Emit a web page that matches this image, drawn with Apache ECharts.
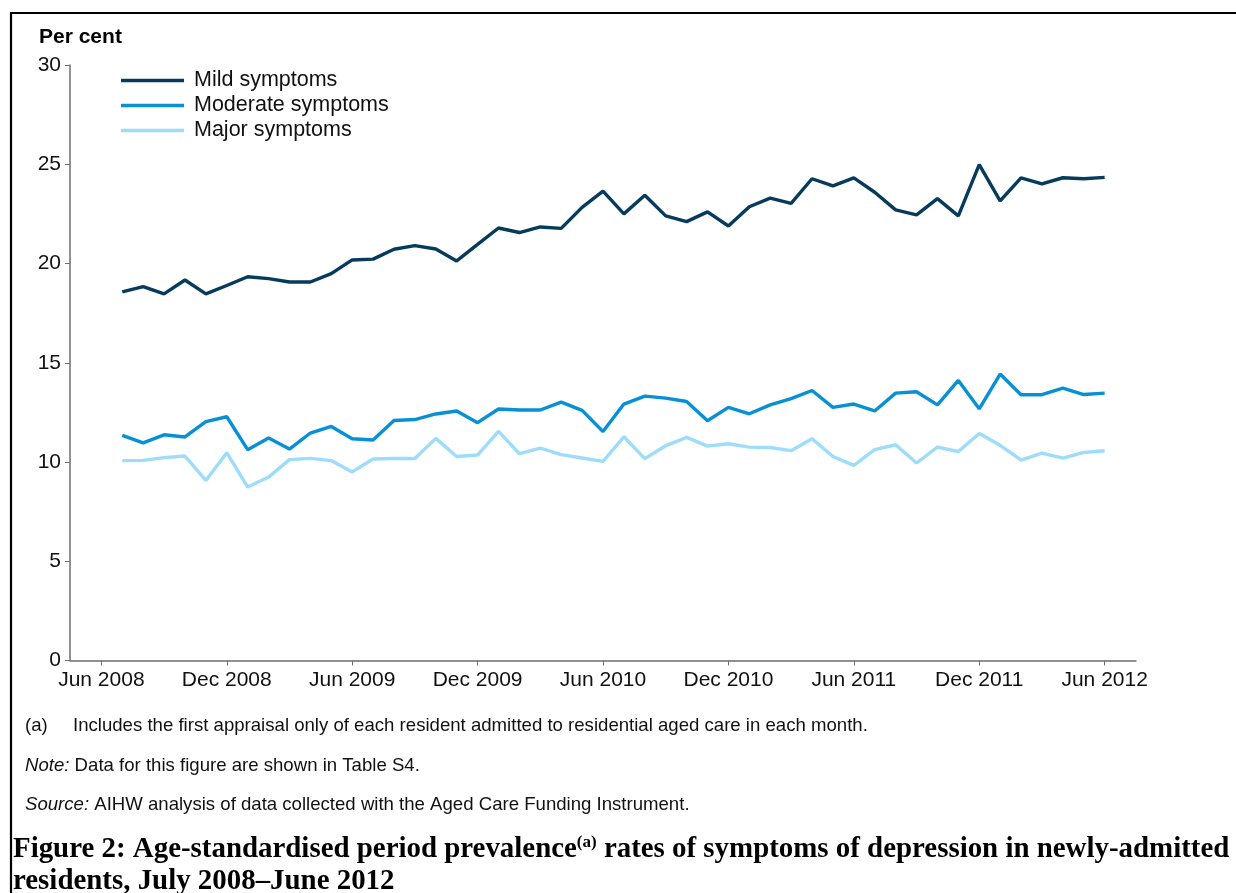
<!DOCTYPE html>
<html>
<head>
<meta charset="utf-8">
<title>Symptoms of depression in newly-admitted residents</title>
<script src="https://cdn.jsdelivr.net/npm/echarts@6/dist/echarts.min.js"></script>
<style>
  html, body { margin: 0; padding: 0; background: #ffffff; }
  #chart { width: 1236px; height: 893px; }
</style>
</head>
<body>
<div id="chart"></div>
<script>
// Months of data, July 2008 to June 2012 (month offset from Jun 2008 = position + 1)
const months = [
  'Jul 2008','Aug 2008','Sep 2008','Oct 2008','Nov 2008','Dec 2008',
  'Jan 2009','Feb 2009','Mar 2009','Apr 2009','May 2009','Jun 2009',
  'Jul 2009','Aug 2009','Sep 2009','Oct 2009','Nov 2009','Dec 2009',
  'Jan 2010','Feb 2010','Mar 2010','Apr 2010','May 2010','Jun 2010',
  'Jul 2010','Aug 2010','Sep 2010','Oct 2010','Nov 2010','Dec 2010',
  'Jan 2011','Feb 2011','Mar 2011','Apr 2011','May 2011','Jun 2011',
  'Jul 2011','Aug 2011','Sep 2011','Oct 2011','Nov 2011','Dec 2011',
  'Jan 2012','Feb 2012','Mar 2012','Apr 2012','May 2012','Jun 2012'
];

// Age-standardised prevalence rates (per cent)
const mild = [
  18.57, 18.84, 18.47, 19.17, 18.47, 18.89,
  19.33, 19.24, 19.07, 19.07, 19.49, 20.18,
  20.22, 20.72, 20.90, 20.73, 20.13, 20.96,
  21.79, 21.56, 21.84, 21.77, 22.83, 23.65,
  22.50, 23.44, 22.40, 22.11, 22.60, 21.89,
  22.86, 23.29, 23.03, 24.27, 23.91, 24.31,
  23.59, 22.70, 22.45, 23.27, 22.40, 24.98,
  23.15, 24.31, 24.01, 24.32, 24.27, 24.34
];
const moderate = [
  11.34, 10.96, 11.37, 11.26, 12.03, 12.28,
  10.62, 11.21, 10.65, 11.46, 11.79, 11.17,
  11.11, 12.09, 12.14, 12.42, 12.57, 11.98,
  12.67, 12.62, 12.62, 13.02, 12.60, 11.54,
  12.92, 13.32, 13.22, 13.05, 12.08, 12.75,
  12.43, 12.88, 13.19, 13.60, 12.75, 12.92,
  12.57, 13.47, 13.54, 12.88, 14.11, 12.68,
  14.43, 13.39, 13.39, 13.72, 13.40, 13.47
];
const major = [
  10.07, 10.08, 10.22, 10.30,  9.07, 10.47,
   8.74,  9.24, 10.12, 10.18, 10.07,  9.50,
  10.15, 10.18, 10.18, 11.19, 10.28, 10.35,
  11.54, 10.42, 10.70, 10.37, 10.20, 10.03,
  11.27, 10.17, 10.82, 11.24, 10.80, 10.92,
  10.75, 10.73, 10.57, 11.17, 10.28,  9.83,
  10.62, 10.87,  9.95, 10.75, 10.53, 11.44,
  10.84, 10.10, 10.45, 10.20, 10.48, 10.57
];

// X-axis ticks: month offsets from Jun 2008 and their labels
const tickOffsets = [0, 6, 12, 18, 24, 30, 36, 42, 48];
const tickLabels = ['Jun 2008','Dec 2008','Jun 2009','Dec 2009','Jun 2010',
                    'Dec 2010','Jun 2011','Dec 2011','Jun 2012'];

const seriesNames = ['Mild symptoms', 'Moderate symptoms', 'Major symptoms'];
const seriesColors = ['#063b5b', '#0890d6', '#9ddcfb'];
const seriesValues = [mild, moderate, major];

const sans = '"Liberation Sans", Arial, sans-serif';
const serif = '"Liberation Serif", "Times New Roman", serif';
const axisGrey = '#6e6e6e';
const noteSize = 18.6;

const chart = echarts.init(document.getElementById('chart'), null, { renderer: 'canvas' });

const toPoints = vals => vals.map((v, i) => [i + 1, v]);

const italicRich = { i: { fontStyle: 'italic', fontSize: noteSize, fontFamily: sans, fill: '#111' } };

const option = {
  backgroundColor: '#ffffff',
  animation: false,
  grid: { left: 70, right: 100, top: 65, bottom: 232.5, containLabel: false },
  legend: {
    orient: 'vertical',
    left: 116,
    top: 63,
    icon: 'rect',
    itemWidth: 63,
    itemHeight: 3.5,
    itemGap: 0,
    textStyle: { fontFamily: sans, fontSize: 21.5, color: '#111', lineHeight: 25, padding: [0, 0, 0, 5] },
    data: seriesNames
  },
  xAxis: {
    type: 'value',
    min: -1.5,
    max: 49.5,
    splitLine: { show: false },
    axisLine: { show: true, onZero: false, lineStyle: { color: axisGrey, width: 1.5 } },
    axisTick: { show: true, length: 5, lineStyle: { color: axisGrey, width: 1 }, customValues: tickOffsets },
    axisLabel: {
      customValues: tickOffsets,
      formatter: v => tickLabels[tickOffsets.indexOf(v)] || '',
      fontFamily: sans, fontSize: 21, color: '#111', margin: 9
    }
  },
  yAxis: {
    type: 'value',
    min: 0,
    max: 30,
    interval: 5,
    splitLine: { show: false },
    axisLine: { show: true, onZero: false, lineStyle: { color: axisGrey, width: 1.5 } },
    axisTick: { show: true, length: 5, lineStyle: { color: axisGrey, width: 1 } },
    axisLabel: { fontFamily: sans, fontSize: 21, color: '#111', margin: 9 }
  },
  series: seriesNames.map((name, k) => ({
    name,
    type: 'line',
    data: toPoints(seriesValues[k]),
    showSymbol: false,
    symbol: 'none',
    lineStyle: { color: seriesColors[k], width: 3.4 },
    itemStyle: { color: seriesColors[k] },
    z: 3 - k
  })),
  graphic: [
    { // frame around the figure
      type: 'rect', silent: true,
      shape: { x: 11, y: 13, width: 1400, height: 1000 },
      style: { fill: 'none', stroke: '#000', lineWidth: 2.2 }
    },
    {
      type: 'text', left: 39, top: 27,
      style: { text: 'Per cent', font: 'bold 21px ' + sans, fill: '#000' }
    },
    {
      type: 'text', left: 25, top: 716,
      style: { text: '(a)', font: noteSize + 'px ' + sans, fill: '#111' }
    },
    {
      type: 'text', left: 73, top: 716,
      style: {
        text: 'Includes the first appraisal only of each resident admitted to residential aged care in each month.',
        font: noteSize + 'px ' + sans, fill: '#111'
      }
    },
    {
      type: 'text', left: 25, top: 756,
      style: {
        text: '{i|Note:} Data for this figure are shown in Table S4.',
        font: noteSize + 'px ' + sans, fill: '#111', rich: italicRich
      }
    },
    {
      type: 'text', left: 25, top: 795,
      style: {
        text: '{i|Source:} AIHW analysis of data collected with the Aged Care Funding Instrument.',
        font: noteSize + 'px ' + sans, fill: '#111', rich: italicRich
      }
    },
    {
      type: 'text', left: 13, top: 834,
      style: {
        text: '{t|Figure 2: Age-standardised period prevalence}{s|(a)}{t| rates of symptoms of depression in newly-admitted}\n{t|residents, July 2008\u2013June 2012}',
        fill: '#000',
        rich: {
          t: { fontFamily: serif, fontWeight: 'bold', fontSize: 28.9, lineHeight: 32, fill: '#000' },
          s: { fontFamily: serif, fontWeight: 'bold', fontSize: 17, lineHeight: 32, verticalAlign: 'top', fill: '#000' }
        }
      }
    }
  ]
};

chart.setOption(option);
</script>
</body>
</html>
